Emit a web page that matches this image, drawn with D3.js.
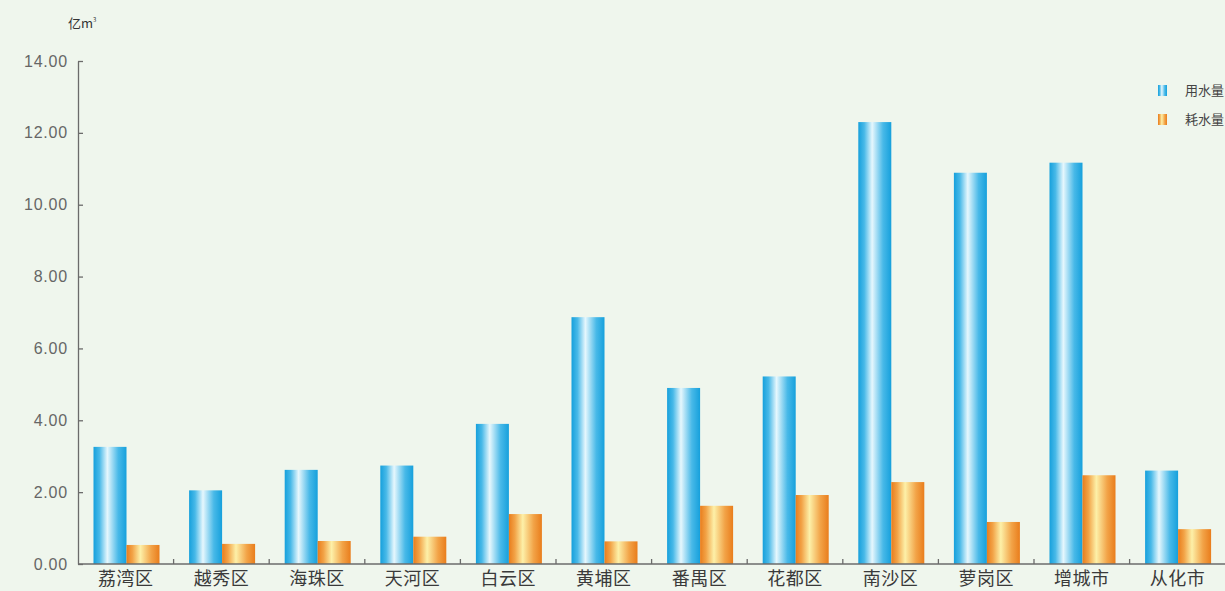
<!DOCTYPE html>
<html>
<head>
<meta charset="utf-8">
<script src="https://cdn.jsdelivr.net/npm/d3@7"></script>
<style>
  body { margin: 0; background: #eff6ed; }
  svg { display: block; }
</style>
</head>
<body>
<div id="chart"></div>
<script>
// districts and series
var districts = ["荔湾区", "越秀区", "海珠区", "天河区", "白云区", "黄埔区", "番禺区", "花都区", "南沙区", "萝岗区", "增城市", "从化市"];
var seriesNames = ["用水量", "耗水量"];
var useWater = [3.26, 2.05, 2.62, 2.74, 3.90, 6.87, 4.90, 5.22, 12.30, 10.89, 11.17, 2.60];
var consumeWater = [0.53, 0.56, 0.64, 0.76, 1.39, 0.63, 1.62, 1.92, 2.28, 1.17, 2.47, 0.97];
var yTicks = [0, 2, 4, 6, 8, 10, 12, 14];

var svgWidth = 1225;
var svgHeight = 591;

var margin = { top: 61, left: 78, bottom: 27 };
var plotBottom = svgHeight - margin.bottom;

var svg = d3.select("#chart")
  .append("svg")
  .attr("width", svgWidth)
  .attr("height", svgHeight);

svg.append("rect")
  .attr("width", svgWidth)
  .attr("height", svgHeight)
  .attr("fill", "#eff6ed");

// gradients for the cylinder look
var defs = svg.append("defs");
function makeGrad(id, edge, mid, light) {
  var g = defs.append("linearGradient")
    .attr("id", id)
    .attr("x1", "0%").attr("x2", "100%")
    .attr("y1", "0%").attr("y2", "0%");
  g.append("stop").attr("offset", "0%").attr("stop-color", edge);
  g.append("stop").attr("offset", "18%").attr("stop-color", mid);
  g.append("stop").attr("offset", "42%").attr("stop-color", light);
  g.append("stop").attr("offset", "75%").attr("stop-color", mid);
  g.append("stop").attr("offset", "100%").attr("stop-color", edge);
}
makeGrad("gBlue", "#16a0dc", "#48b9e8", "#e6f7fd");
makeGrad("gOrange", "#e97d1c", "#f2a347", "#fdf0a8");

var data = districts.map(function(d, i) {
  return { name: d, values: [useWater[i], consumeWater[i]] };
});

// scales
var x0 = d3.scaleBand()
  .domain(districts)
  .range([margin.left, margin.left + 12 * 95.6])
  .padding(0);

var x1 = d3.scaleBand()
  .domain(seriesNames)
  .range([15.5, 81.5])
  .padding(0);

var y = d3.scaleLinear()
  .domain([0, 14])
  .range([plotBottom, margin.top]);

var fills = ["url(#gBlue)", "url(#gOrange)"];

// bars
var groups = svg.append("g").selectAll("g")
  .data(data)
  .enter()
  .append("g")
  .attr("transform", d => `translate(${x0(d.name)},0)`);

groups.selectAll("rect")
  .data(d => d.values.map((v, i) => ({ key: seriesNames[i], value: v, i: i })))
  .enter()
  .append("rect")
  .attr("x", d => x1(d.key))
  .attr("y", d => y(d.value))
  .attr("width", x1.bandwidth())
  .attr("height", d => plotBottom - y(d.value))
  .attr("fill", d => fills[d.i]);

// y axis
var yAxis = d3.axisLeft(y)
  .tickValues(yTicks)
  .tickFormat(d3.format(".2f"))
  .tickSizeInner(-5)
  .tickSizeOuter(0)
  .tickPadding(10);

var yG = svg.append("g")
  .attr("transform", `translate(${margin.left},0)`)
  .call(yAxis);
yG.select(".domain").attr("stroke", "#6b6b6b").attr("stroke-width", 1.3);
yG.selectAll(".tick line").attr("stroke", "#6b6b6b").attr("stroke-width", 1.3);
yG.selectAll(".tick text")
  .attr("fill", "#666")
  .attr("font-family", "Liberation Sans, Arial, sans-serif")
  .attr("font-size", "16px")
  .attr("letter-spacing", "0.8px");

// x axis
svg.append("line")
  .attr("x1", margin.left)
  .attr("x2", svgWidth)
  .attr("y1", plotBottom)
  .attr("y2", plotBottom)
  .attr("stroke", "#6b6b6b")
  .attr("stroke-width", 1.3);

svg.append("g").selectAll("line")
  .data(districts.slice(1))
  .enter()
  .append("line")
  .attr("x1", d => x0(d))
  .attr("x2", d => x0(d))
  .attr("y1", plotBottom)
  .attr("y2", plotBottom - 5)
  .attr("stroke", "#6b6b6b")
  .attr("stroke-width", 1.3);

svg.append("g").selectAll("text")
  .data(districts)
  .enter()
  .append("text")
  .attr("x", d => x0(d) + x0.bandwidth() / 2)
  .attr("y", plotBottom + 21)
  .attr("text-anchor", "middle")
  .attr("font-family", "Noto Sans CJK SC, sans-serif")
  .attr("font-size", "18px")
  .attr("letter-spacing", "0.5px")
  .attr("fill", "#3a3a3a")
  .text(d => d);

// unit label
var unit = svg.append("text")
  .attr("x", 68)
  .attr("y", 28)
  .attr("font-family", "Noto Sans CJK SC, sans-serif")
  .attr("font-size", "13px")
  .attr("fill", "#333")
  .text("亿m");
unit.append("tspan")
  .attr("dy", -6)
  .attr("font-size", "6px")
  .text("3");

// legend
var legend = svg.append("g").selectAll("g")
  .data(seriesNames)
  .enter()
  .append("g")
  .attr("transform", (d, i) => `translate(1158,${85 + i * 29})`);

legend.append("rect")
  .attr("width", 9)
  .attr("height", 11)
  .attr("fill", (d, i) => fills[i]);

legend.append("text")
  .attr("x", 27)
  .attr("y", 10)
  .attr("font-family", "Noto Sans CJK SC, sans-serif")
  .attr("font-size", "13px")
  .attr("fill", "#444")
  .text(d => d);
</script>
</body>
</html>
